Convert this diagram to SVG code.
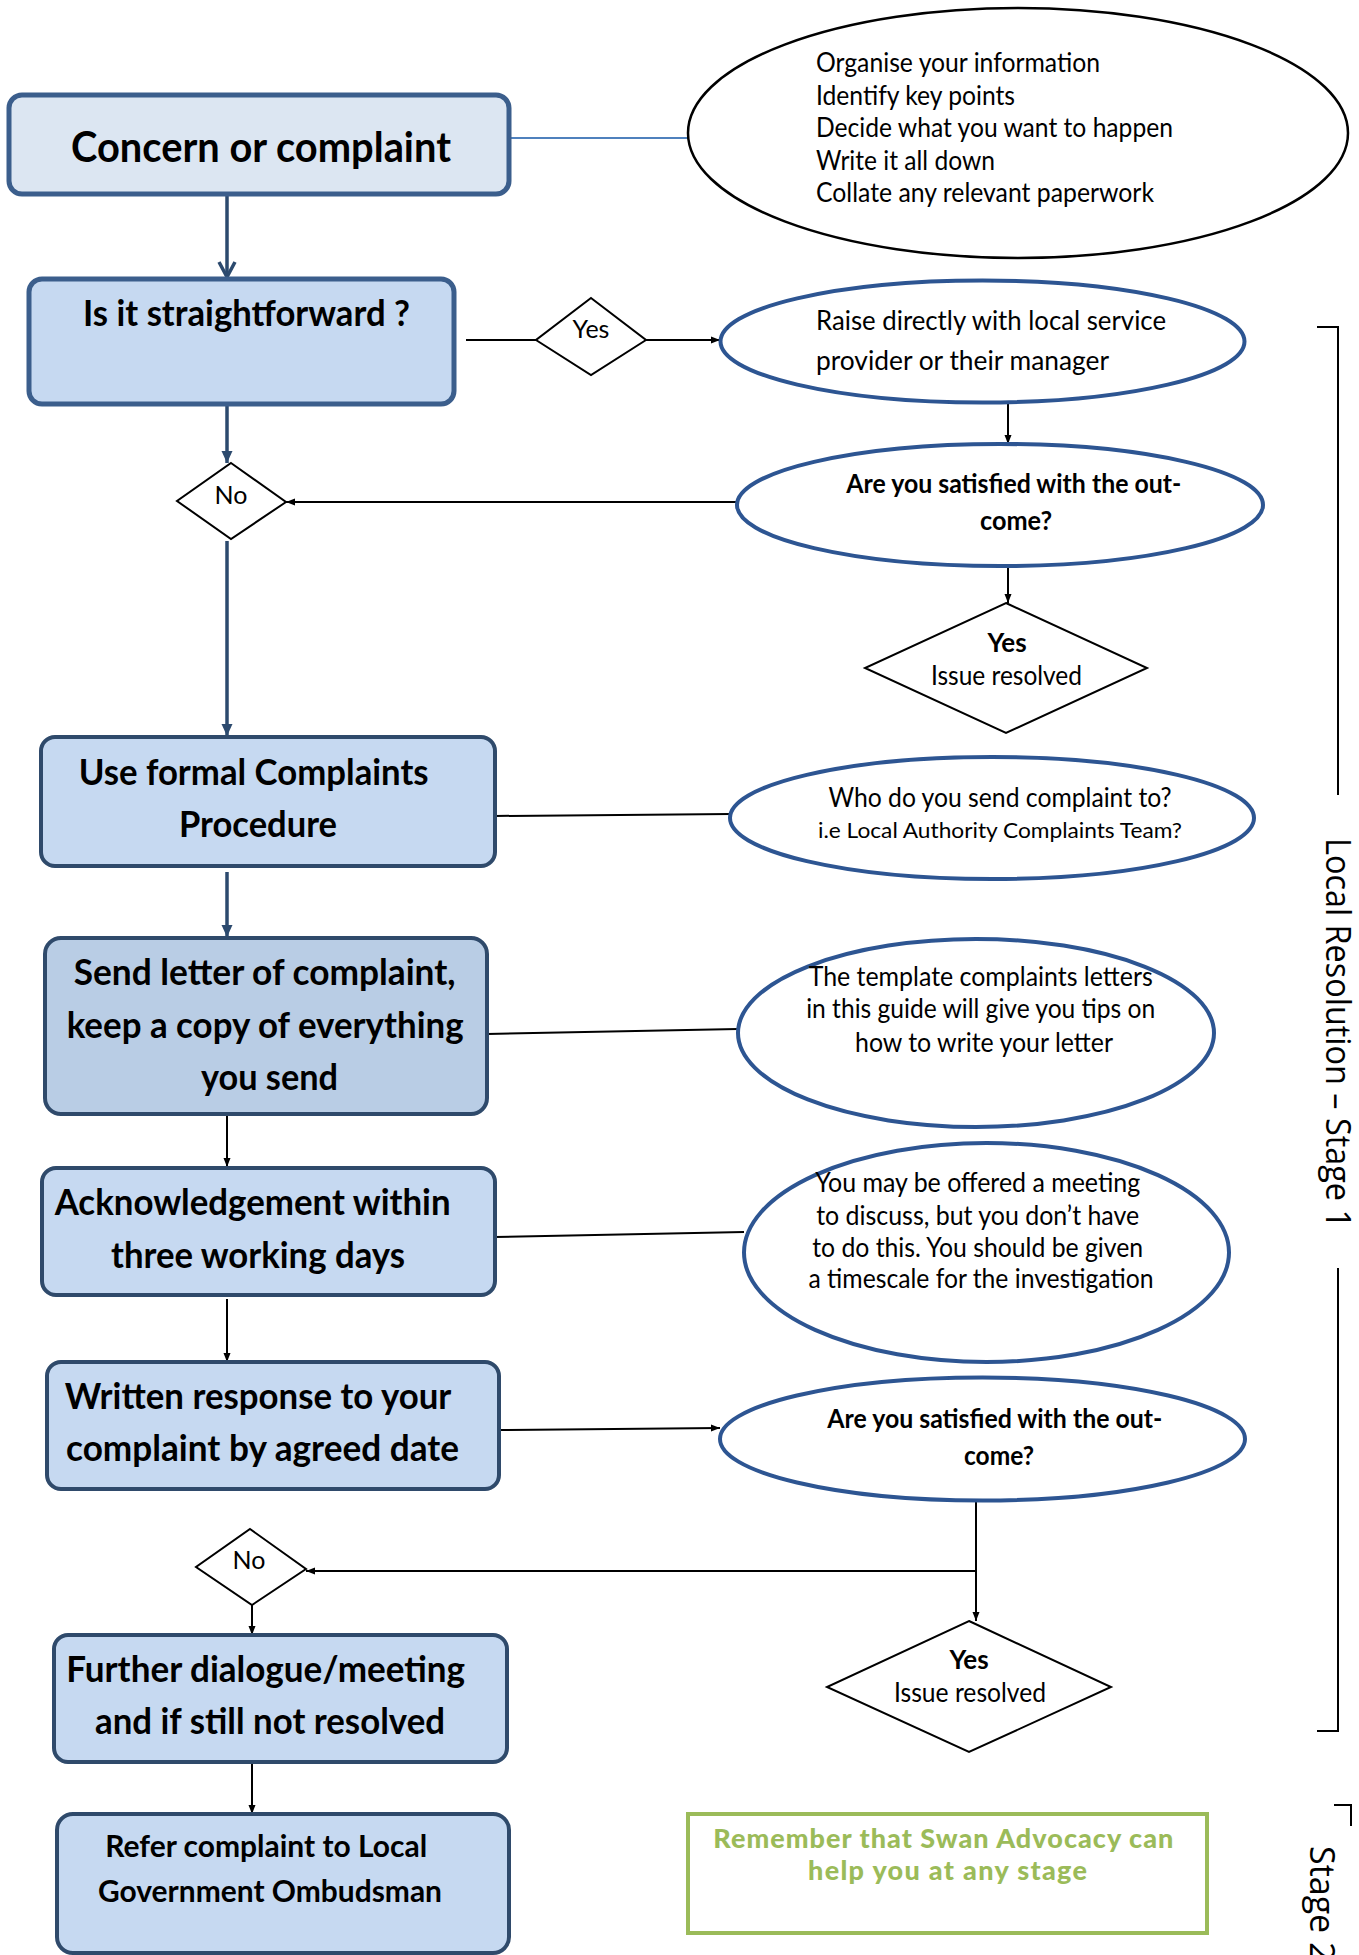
<svg xmlns="http://www.w3.org/2000/svg" width="1359" height="1955" viewBox="0 0 1359 1955">
<style>
.box{fill:#c6d9f1;stroke:#2f4a6b;stroke-width:4}
.box1{fill:#dce6f2;stroke:#3b5e8c;stroke-width:5}
.box2{fill:#c6d9f1;stroke:#3b5e8c;stroke-width:5}
.box4{fill:#b9cde5;stroke:#2f4a6b;stroke-width:4}
.ell{fill:#fff;stroke:#2d5592;stroke-width:4}
.ellk{fill:#fff;stroke:#000;stroke-width:2.5}
.dia{fill:#fff;stroke:#000;stroke-width:2}
.tb{font-family:Lato,"Liberation Sans",sans-serif;font-weight:bold;fill:#000;text-anchor:middle}
.t{font-family:Lato,"Liberation Sans",sans-serif;fill:#000}
.tc{font-family:Lato,"Liberation Sans",sans-serif;fill:#000;text-anchor:middle}
.side{font-family:"Open Sans","Noto Sans",sans-serif;fill:#000;font-size:34px}
.green{font-family:Lato,"Liberation Sans",sans-serif;font-weight:900;fill:#9bbb59;font-size:27px;text-anchor:middle}
.ln{fill:none;stroke:#000;stroke-width:2}
.navy{fill:none;stroke:#2c4a6e;stroke-width:3.5}
</style>
<defs>
<marker id="ah" markerUnits="userSpaceOnUse" markerWidth="10" markerHeight="10" refX="9" refY="5" orient="auto"><path d="M0,1.5 L9,5 L0,8.5 Z" fill="#000"/></marker>
<marker id="ahn" markerUnits="userSpaceOnUse" markerWidth="14" markerHeight="14" refX="12" refY="7" orient="auto"><path d="M0,1.5 L12,7 L0,12.5 Z" fill="#2c4a6e"/></marker>
<marker id="chev" markerUnits="userSpaceOnUse" markerWidth="20" markerHeight="20" refX="17" refY="10" orient="auto"><path d="M2,2 L17,10 L2,18" fill="none" stroke="#2c4a6e" stroke-width="3.5"/></marker>
</defs>

<g id="connectors">
<line x1="509" y1="138" x2="688" y2="138" stroke="#4f81bd" stroke-width="2"/>
<line class="navy" x1="227" y1="196" x2="227" y2="277" marker-end="url(#chev)"/>
<line class="navy" x1="227" y1="406" x2="227" y2="463" marker-end="url(#ahn)"/>
<line class="ln" x1="466" y1="340" x2="536" y2="340"/>
<line class="ln" x1="646" y1="340" x2="720" y2="340" marker-end="url(#ah)"/>
<line class="ln" x1="1008" y1="403" x2="1008" y2="444" marker-end="url(#ah)"/>
<line class="ln" x1="737" y1="502" x2="286" y2="502" marker-end="url(#ah)"/>
<line class="ln" x1="1008" y1="566" x2="1008" y2="603" marker-end="url(#ah)"/>
<line class="navy" x1="227" y1="541" x2="227" y2="736" marker-end="url(#ahn)"/>
<line class="ln" x1="495" y1="816" x2="731" y2="814"/>
<line class="navy" x1="227" y1="872" x2="227" y2="937" marker-end="url(#ahn)"/>
<line class="ln" x1="487" y1="1034" x2="738" y2="1029"/>
<line class="ln" x1="227" y1="1114" x2="227" y2="1167" marker-end="url(#ah)"/>
<line class="ln" x1="495" y1="1237" x2="744" y2="1232"/>
<line class="ln" x1="227" y1="1299" x2="227" y2="1362" marker-end="url(#ah)"/>
<line class="ln" x1="499" y1="1430" x2="720" y2="1428" marker-end="url(#ah)"/>
<line class="ln" x1="976" y1="1501" x2="976" y2="1621" marker-end="url(#ah)"/>
<line class="ln" x1="977" y1="1571" x2="306" y2="1571" marker-end="url(#ah)"/>
<line class="ln" x1="252" y1="1605" x2="252" y2="1635" marker-end="url(#ah)"/>
<line class="ln" x1="252" y1="1762" x2="252" y2="1814" marker-end="url(#ah)"/>
</g>

<g id="bracket1">
<path class="ln" d="M1317,327 H1338 V795"/>
<path class="ln" d="M1338,1268 V1731 H1317"/>
<text class="side" transform="translate(1326,1033) rotate(90)" text-anchor="middle" textLength="390" lengthAdjust="spacingAndGlyphs">Local Resolution – Stage 1</text>
</g>
<g id="bracket2">
<path class="ln" d="M1334,1805 H1351 V1826"/>
<text class="side" transform="translate(1310,1846) rotate(90)">Stage 2</text>
</g>

<g id="concern">
<rect class="box1" x="9" y="95" width="500" height="99" rx="13"/>
<text class="tb" x="261" y="162" font-size="42" textLength="380" lengthAdjust="spacingAndGlyphs">Concern or complaint</text>
</g>
<g id="prepare">
<ellipse class="ellk" cx="1018" cy="133" rx="330" ry="125"/>
<text class="t" font-size="26">
<tspan x="816" y="72" textLength="284" lengthAdjust="spacingAndGlyphs">Organise your information</tspan>
<tspan x="816" y="104.5" textLength="199" lengthAdjust="spacingAndGlyphs">Identify key points</tspan>
<tspan x="816" y="137" textLength="357" lengthAdjust="spacingAndGlyphs">Decide what you want to happen</tspan>
<tspan x="816" y="169.5" textLength="179" lengthAdjust="spacingAndGlyphs">Write it all down</tspan>
<tspan x="816" y="202" textLength="338" lengthAdjust="spacingAndGlyphs">Collate any relevant paperwork</tspan>
</text>
</g>
<g id="straightforward">
<rect class="box2" x="29" y="279" width="425" height="125" rx="13"/>
<text class="tb" x="246.5" y="326" font-size="36" textLength="327" lengthAdjust="spacingAndGlyphs">Is it straightforward ?</text>
</g>
<g id="yes1">
<polygon class="dia" points="591,298 646,340 591,375 536,340"/>
<text class="tc" x="591" y="338" font-size="25">Yes</text>
</g>
<g id="raise">
<ellipse class="ell" cx="982.5" cy="341.5" rx="262" ry="61"/>
<text class="t" font-size="27">
<tspan x="816" y="330" textLength="350" lengthAdjust="spacingAndGlyphs">Raise directly with local service</tspan>
<tspan x="816" y="370" textLength="293" lengthAdjust="spacingAndGlyphs">provider or their manager</tspan>
</text>
</g>
<g id="no1">
<polygon class="dia" points="231,463 286,502 231,539 177,501"/>
<text class="tc" x="231" y="504" font-size="25">No</text>
</g>
<g id="satisfied1">
<ellipse class="ell" cx="1000" cy="505" rx="263" ry="61"/>
<text class="tb" font-size="26">
<tspan x="1017" y="493" textLength="335" lengthAdjust="spacingAndGlyphs">Are you satisfied with the out-</tspan>
<tspan x="1016" y="530" textLength="72" lengthAdjust="spacingAndGlyphs">come?</tspan>
</text>
</g>
<g id="resolved1">
<polygon class="dia" points="1006,603 1147,668 1006,733 865,668"/>
<text class="tb" x="1007" y="652" font-size="26">Yes</text>
<text class="tc" x="1006.5" y="685" font-size="26" textLength="151" lengthAdjust="spacingAndGlyphs">Issue resolved</text>
</g>
<g id="formal">
<rect class="box" x="41" y="737" width="454" height="129" rx="14"/>
<text class="tb" font-size="36">
<tspan x="258" y="785" textLength="350" lengthAdjust="spacingAndGlyphs">Use formal Complaints</tspan>
<tspan x="258" y="837" textLength="158" lengthAdjust="spacingAndGlyphs">Procedure</tspan>
</text>
</g>
<g id="who">
<ellipse class="ell" cx="992" cy="818" rx="262" ry="61"/>
<text class="tc" x="1000" y="807" font-size="26" textLength="343" lengthAdjust="spacingAndGlyphs">Who do you send complaint to?</text>
<text class="tc" x="1000" y="838" font-size="22" textLength="364" lengthAdjust="spacingAndGlyphs">i.e Local Authority Complaints Team?</text>
</g>
<g id="sendletter">
<rect class="box4" x="45" y="938" width="442" height="176" rx="16"/>
<text class="tb" font-size="36">
<tspan x="269" y="985" textLength="382" lengthAdjust="spacingAndGlyphs">Send letter of complaint,</tspan>
<tspan x="269.5" y="1038" textLength="397" lengthAdjust="spacingAndGlyphs">keep a copy of everything</tspan>
<tspan x="269.5" y="1090" textLength="137" lengthAdjust="spacingAndGlyphs">you send</tspan>
</text>
</g>
<g id="template">
<ellipse class="ell" cx="976" cy="1033" rx="238" ry="94"/>
<text class="tc" font-size="26">
<tspan x="984" y="986" textLength="344" lengthAdjust="spacingAndGlyphs">The template complaints letters</tspan>
<tspan x="984" y="1018" textLength="349" lengthAdjust="spacingAndGlyphs">in this guide will give you tips on</tspan>
<tspan x="984" y="1052" textLength="258" lengthAdjust="spacingAndGlyphs">how to write your letter</tspan>
</text>
</g>
<g id="acknowledge">
<rect class="box" x="42" y="1168" width="453" height="127" rx="14"/>
<text class="tb" font-size="36">
<tspan x="257" y="1215" textLength="396" lengthAdjust="spacingAndGlyphs">Acknowledgement within</tspan>
<tspan x="258" y="1268" textLength="294" lengthAdjust="spacingAndGlyphs">three working days</tspan>
</text>
</g>
<g id="meeting">
<ellipse class="ell" cx="986.5" cy="1252.5" rx="242.5" ry="109.5"/>
<text class="tc" font-size="26">
<tspan x="981" y="1192" textLength="325" lengthAdjust="spacingAndGlyphs">You may be offered a meeting</tspan>
<tspan x="981" y="1225" textLength="323" lengthAdjust="spacingAndGlyphs">to discuss, but you don’t have</tspan>
<tspan x="981" y="1257" textLength="331" lengthAdjust="spacingAndGlyphs">to do this. You should be given</tspan>
<tspan x="981" y="1288" textLength="345" lengthAdjust="spacingAndGlyphs">a timescale for the investigation</tspan>
</text>
</g>
<g id="written">
<rect class="box" x="47" y="1362" width="452" height="127" rx="14"/>
<text class="tb" font-size="36">
<tspan x="262" y="1409" textLength="386" lengthAdjust="spacingAndGlyphs">Written response to your</tspan>
<tspan x="262.5" y="1461" textLength="393" lengthAdjust="spacingAndGlyphs">complaint by agreed date</tspan>
</text>
</g>
<g id="satisfied2">
<ellipse class="ell" cx="982.5" cy="1439" rx="262.5" ry="61.5"/>
<text class="tb" font-size="26">
<tspan x="998" y="1428" textLength="335" lengthAdjust="spacingAndGlyphs">Are you satisfied with the out-</tspan>
<tspan x="999" y="1465" textLength="70" lengthAdjust="spacingAndGlyphs">come?</tspan>
</text>
</g>
<g id="no2">
<polygon class="dia" points="250,1529 306,1569 252,1605 196,1567"/>
<text class="tc" x="249" y="1569" font-size="25">No</text>
</g>
<g id="resolved2">
<polygon class="dia" points="969,1621 1111,1687 969,1752 827,1687"/>
<text class="tb" x="969" y="1668.5" font-size="26">Yes</text>
<text class="tc" x="970" y="1702" font-size="26" textLength="152" lengthAdjust="spacingAndGlyphs">Issue resolved</text>
</g>
<g id="further">
<rect class="box" x="54" y="1635" width="453" height="127" rx="14"/>
<text class="tb" font-size="36">
<tspan x="270" y="1681.5" textLength="399" lengthAdjust="spacingAndGlyphs">Further dialogue/meeting</tspan>
<tspan x="270" y="1734" textLength="350" lengthAdjust="spacingAndGlyphs">and if still not resolved</tspan>
</text>
</g>
<g id="ombudsman">
<rect class="box" x="57" y="1814" width="452" height="139" rx="16"/>
<text class="tb" font-size="31">
<tspan x="270" y="1857" textLength="322" lengthAdjust="spacingAndGlyphs">Refer complaint to Local</tspan>
<tspan x="270" y="1902" textLength="344" lengthAdjust="spacingAndGlyphs">Government Ombudsman</tspan>
</text>
</g>
<g id="remember">
<rect x="688" y="1814" width="519" height="119" fill="#fff" stroke="#9bbb59" stroke-width="4"/>
<text class="green">
<tspan x="947" y="1848" textLength="460">Remember that Swan Advocacy can</tspan>
<tspan x="947.5" y="1880" textLength="279">help you at any stage</tspan>
</text>
</g>
</svg>
